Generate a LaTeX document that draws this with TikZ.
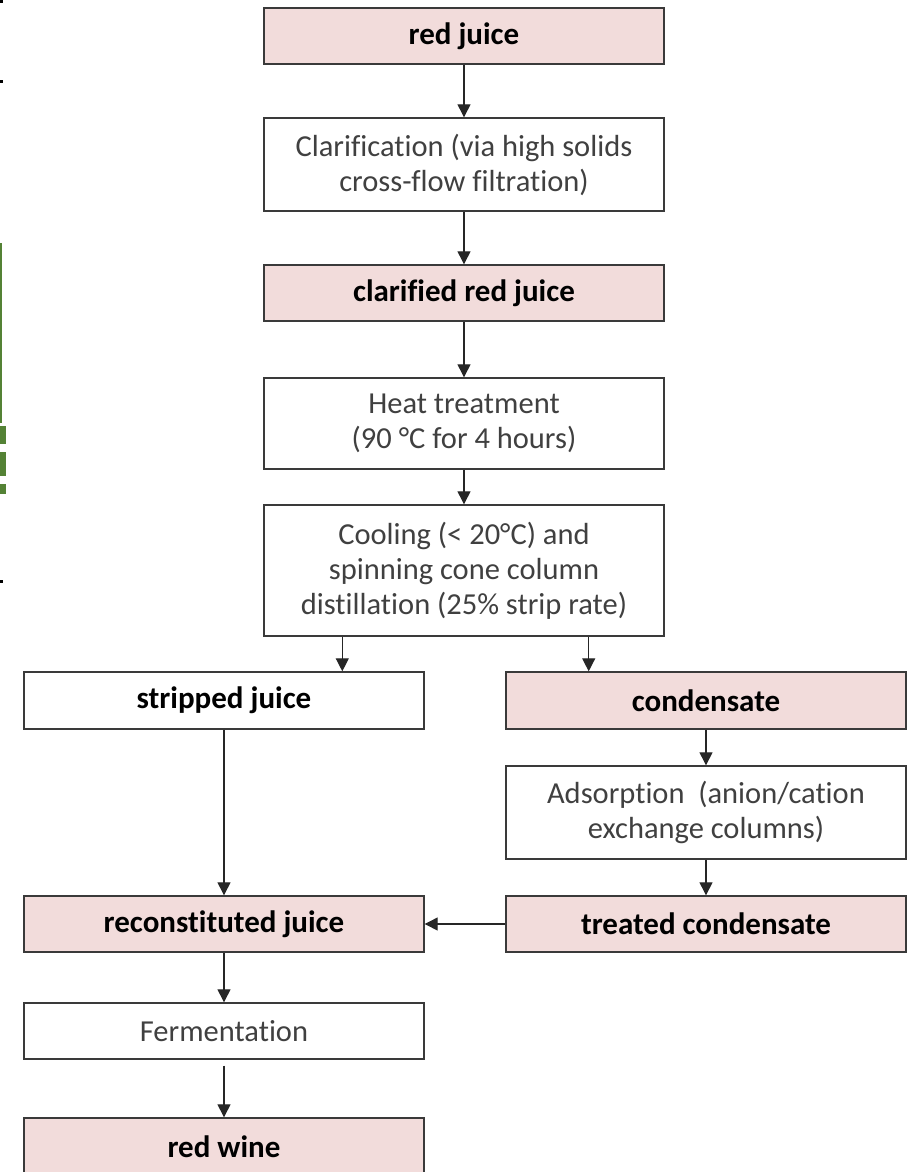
\documentclass[tikz,border=0pt]{standalone}
\usepackage{fontspec}
\setmainfont{Carlito}[Ligatures=NoCommon]
\usetikzlibrary{arrows.meta,calc}
\definecolor{stagepink}{HTML}{F2DCDB}
\definecolor{boxline}{HTML}{3A3A3A}
\definecolor{bodytext}{HTML}{404040}
\definecolor{edgegreen}{HTML}{548235}

\begin{document}
\begin{tikzpicture}[x=1pt, y=-1pt, >={Triangle[width=13pt,length=13pt]},
  stage/.style={draw=boxline, line width=1.4pt, fill=stagepink, minimum width=400pt,
    minimum height=56pt, inner sep=0pt, font=\fontsize{31}{35}\selectfont\bfseries, text=black},
  process/.style={draw=boxline, line width=1.4pt, fill=white, minimum width=400pt,
    inner sep=0pt, align=center, font=\fontsize{30.5}{35}\selectfont, text=bodytext},
  flow/.style={->, line width=1.3pt, draw=black!85}]

  \useasboundingbox (0,0) rectangle (907,1172);

  % --- 1. 左端の切れ端 ---
  \fill[black] (0,0) rectangle (3,3);
  \fill[black] (0,80) rectangle (3,83);
  \fill[black] (0,580) rectangle (3,583);
  \fill[edgegreen] (0,243) rectangle (2,423);
  \fill[edgegreen] (0,426) rectangle (6,444);
  \fill[edgegreen] (0,452) rectangle (6,476);
  \fill[edgegreen] (0,484) rectangle (6,494);

  % --- 2. 中央の列 ---
  \node[stage] (juice) at (464,36) {red juice};
  \node[process, minimum height=93pt] (clarif) at (464,164.5)
    {Clarification (via high solids\\cross-flow filtration)};
  \node[stage] (clarjuice) at (464,293) {clarified red juice};
  \node[process, minimum height=91pt] (heat) at (464,423.5)
    {Heat treatment\\(90 °C for 4 hours)};
  \node[process, minimum height=131pt] (cooling) at (464,570.5)
    {Cooling (< 20°C) and\\spinning cone column\\distillation (25\% strip rate)};

  % --- 3. 左の列 ---
  \node[process, minimum height=57pt, text=black, font=\fontsize{31}{35}\selectfont\bfseries]
    (stripped) at (224,700.5) {stripped juice};
  \node[stage] (recon) at (224,924) {reconstituted juice};
  \node[process, minimum height=56pt] (ferment) at (224,1031) {Fermentation};
  \node[stage, minimum height=58pt] (wine) at (224,1147) {red wine};

  % --- 4. 右の列 ---
  \node[stage, minimum height=57pt] (cond) at (706,700.5) {condensate};
  \node[process, minimum height=93pt] (adsorp) at (706,812.5)
    {Adsorption~ (anion/cation\\exchange columns)};
  \node[stage] (treated) at (706,924) {treated condensate};

  % --- 5. 矢印 ---
  \draw[flow] (juice) -- (clarif);
  \draw[flow] (clarif) -- (clarjuice);
  \draw[flow] (clarjuice) -- (heat);
  \draw[flow] (heat) -- (cooling);
  \coordinate (splitL) at ([xshift=79pt]cooling.south west);
  \coordinate (splitR) at ([xshift=-76pt]cooling.south east);
  \draw[flow] (splitL) -- (splitL |- stripped.north);
  \draw[flow] (splitR) -- (splitR |- cond.north);
  \draw[flow] (stripped) -- (recon);
  \draw[flow] (cond) -- (adsorp);
  \draw[flow] (adsorp) -- (treated);
  \draw[flow] (treated) -- (recon);
  \draw[flow] (recon) -- (ferment);
  \draw[flow, shorten <=6pt] (ferment) -- (wine);

\end{tikzpicture}
\end{document}
